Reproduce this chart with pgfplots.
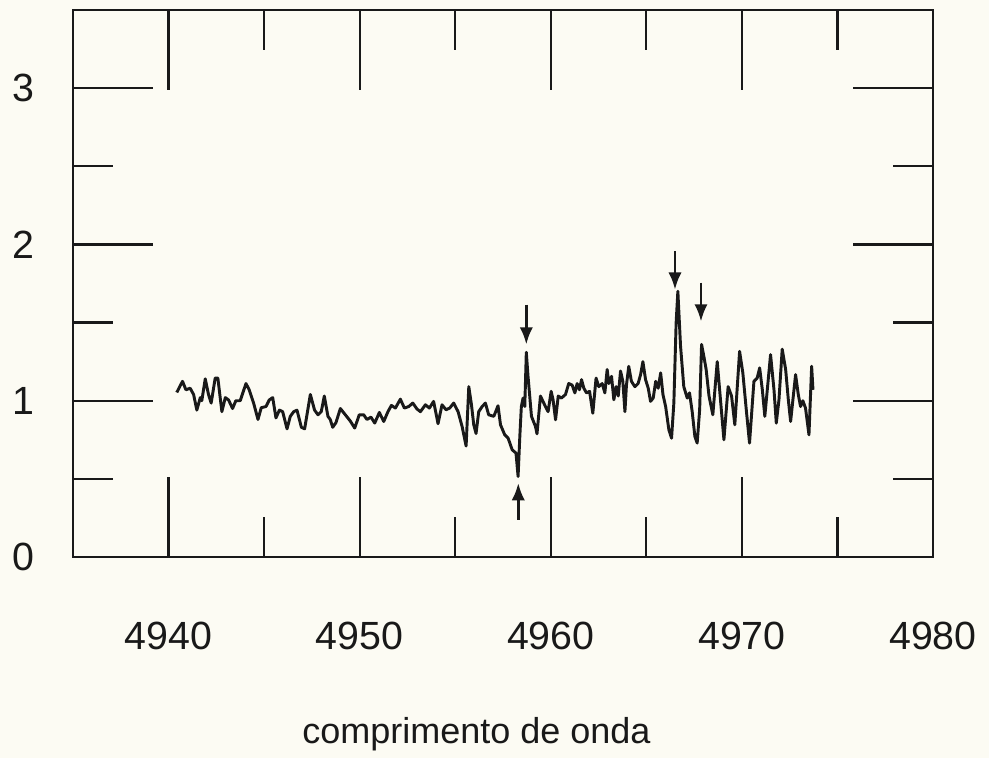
\documentclass[border=0pt]{standalone}
\usepackage{fontspec}
\setmainfont{Liberation Sans}
\usepackage{pgfplots}
\pgfplotsset{compat=1.18}
\usetikzlibrary{arrows.meta}
\definecolor{bgcream}{RGB}{252,251,243}
\definecolor{ink}{RGB}{25,25,25}
\begin{document}
\begin{tikzpicture}
\fill[bgcream] (-54.75pt,-150.75pt) rectangle ++(741.75pt,568.5pt);
\begin{axis}[
  at={(0,0)}, anchor=south west,
  scale only axis,
  width=645pt, height=410.25pt,
  xmin=4935, xmax=4980, ymin=0, ymax=3.5,
  xtick={4940,4950,4960,4970,4980},
  minor xtick={4945,4955,4965,4975},
  ytick={0,1,2,3},
  minor ytick={0.5,1.5,2.5},
  tick align=inside,
  major tick length=60pt,
  minor tick length=30pt,
  every tick/.style={line width=1.7pt, ink},
  axis line style={line width=2.1pt, ink},
  /pgf/number format/1000 sep={},
  /pgf/number format/assume math mode=true,
  tick label style={font=\fontsize{29.5}{31}\selectfont, text=ink, inner sep=0pt},
  xticklabel style={anchor=north, yshift=-48.75pt},
  yticklabel style={anchor=east, xshift=-28.5pt},
  xlabel={comprimento de onda},
  xlabel style={at={(rel axis cs:0,0)}, anchor=base west, inner sep=0pt,
    xshift=171.75pt, yshift=-139.5pt, font=\fontsize{27}{30}\selectfont, text=ink},
  clip=false,
]
\addplot[ink, line width=2.2pt, sharp plot, line join=round] coordinates {
(4940.43,1.053) (4940.73,1.124) (4940.91,1.07) (4941.13,1.08) (4941.31,1.04)
(4941.48,0.94) (4941.66,1.02) (4941.74,1.0) (4941.92,1.14) (4942.09,1.04)
(4942.23,0.985) (4942.44,1.145) (4942.58,1.145) (4942.79,0.93) (4942.97,1.02)
(4943.14,1.005) (4943.35,0.95) (4943.52,1.0) (4943.75,1.0) (4944.05,1.11)
(4944.22,1.07) (4944.45,0.985) (4944.68,0.88) (4944.85,0.955) (4945.10,0.963)
(4945.27,1.005) (4945.45,1.02) (4945.62,0.89) (4945.80,0.94) (4945.97,0.93)
(4946.20,0.82) (4946.37,0.90) (4946.55,0.93) (4946.72,0.94) (4946.95,0.83)
(4947.12,0.82) (4947.42,1.04) (4947.64,0.94) (4947.82,0.91) (4947.99,0.93)
(4948.15,1.03) (4948.34,0.90) (4948.46,0.88) (4948.59,0.83) (4948.76,0.86)
(4948.99,0.95) (4949.25,0.91) (4949.51,0.87) (4949.74,0.825) (4949.98,0.91)
(4950.21,0.91) (4950.38,0.88) (4950.59,0.895) (4950.79,0.857) (4951.03,0.925)
(4951.26,0.867) (4951.48,0.93) (4951.66,0.97) (4951.87,0.953) (4952.13,1.01)
(4952.34,0.953) (4952.57,0.963) (4952.78,0.985) (4953.00,0.947) (4953.18,0.93)
(4953.44,0.974) (4953.65,0.953) (4953.87,0.996) (4954.10,0.853) (4954.31,0.974)
(4954.52,0.942) (4954.71,0.953) (4954.92,0.985) (4955.15,0.93) (4955.36,0.835)
(4955.57,0.71) (4955.71,1.09) (4955.85,0.974) (4955.97,0.846) (4956.09,0.79)
(4956.23,0.93) (4956.41,0.963) (4956.58,0.985) (4956.75,0.91) (4957.02,0.90)
(4957.24,0.968) (4957.37,0.846) (4957.59,0.782) (4957.77,0.76) (4957.98,0.686)
(4958.18,0.665) (4958.29,0.515) (4958.38,0.771) (4958.46,0.963) (4958.55,1.017)
(4958.64,0.963) (4958.72,1.31) (4958.81,1.156) (4958.99,0.90) (4959.20,0.835)
(4959.28,0.788) (4959.46,1.03) (4959.72,0.963) (4959.86,0.93) (4960.02,1.06)
(4960.12,1.006) (4960.25,0.878) (4960.39,1.03) (4960.56,1.017) (4960.77,1.04)
(4960.94,1.11) (4961.12,1.10) (4961.26,1.05) (4961.38,1.11) (4961.50,1.07)
(4961.61,1.135) (4961.73,1.08) (4961.87,1.05) (4962.03,1.06) (4962.20,0.92)
(4962.37,1.145) (4962.51,1.09) (4962.69,1.11) (4962.83,1.05) (4962.95,1.20)
(4963.04,1.11) (4963.18,1.156) (4963.30,1.006) (4963.42,1.09) (4963.53,1.03)
(4963.65,1.19) (4963.77,1.124) (4963.88,0.93) (4963.96,1.10) (4964.08,1.22)
(4964.22,1.124) (4964.40,1.09) (4964.57,1.11) (4964.70,1.167) (4964.82,1.25)
(4964.96,1.135) (4965.10,1.08) (4965.22,0.996) (4965.36,1.017) (4965.49,1.124)
(4965.62,1.08) (4965.75,1.178) (4965.87,1.04) (4966.01,0.963) (4966.18,0.814)
(4966.32,0.76) (4966.44,0.985) (4966.56,1.50) (4966.65,1.70) (4966.79,1.35)
(4966.96,1.09) (4967.14,1.017) (4967.26,1.05) (4967.40,0.93) (4967.54,0.771)
(4967.66,0.729) (4967.79,0.942) (4967.89,1.36) (4968.01,1.284) (4968.13,1.20)
(4968.28,1.03) (4968.48,0.91) (4968.71,1.25) (4968.88,1.006) (4969.06,0.75)
(4969.28,1.09) (4969.46,1.03) (4969.63,0.846) (4969.88,1.316) (4970.05,1.178)
(4970.23,0.942) (4970.40,0.729) (4970.63,1.124) (4970.80,1.145) (4970.93,1.21)
(4971.07,1.07) (4971.20,0.90) (4971.36,1.11) (4971.50,1.295) (4971.68,1.07)
(4971.80,0.857) (4971.94,1.006) (4972.11,1.33) (4972.29,1.20) (4972.43,1.006)
(4972.55,0.867) (4972.67,1.006) (4972.81,1.167) (4972.95,1.04) (4973.07,0.963)
(4973.19,1.0) (4973.33,0.953) (4973.51,0.782) (4973.65,1.22) (4973.72,1.07)
};
\draw[ink, line width=2.2pt, -{Latex[length=13pt,width=10pt]}] (axis cs:4958.30,0.237) -- (axis cs:4958.30,0.474);
\draw[ink, line width=2.2pt, -{Latex[length=13pt,width=10pt]}] (axis cs:4958.72,1.615) -- (axis cs:4958.72,1.359);
\draw[ink, line width=2.2pt, -{Latex[length=13pt,width=10pt]}] (axis cs:4966.50,1.955) -- (axis cs:4966.50,1.71);
\draw[ink, line width=2.2pt, -{Latex[length=13pt,width=10pt]}] (axis cs:4967.86,1.756) -- (axis cs:4967.86,1.506);
\end{axis}
\end{tikzpicture}
\end{document}
